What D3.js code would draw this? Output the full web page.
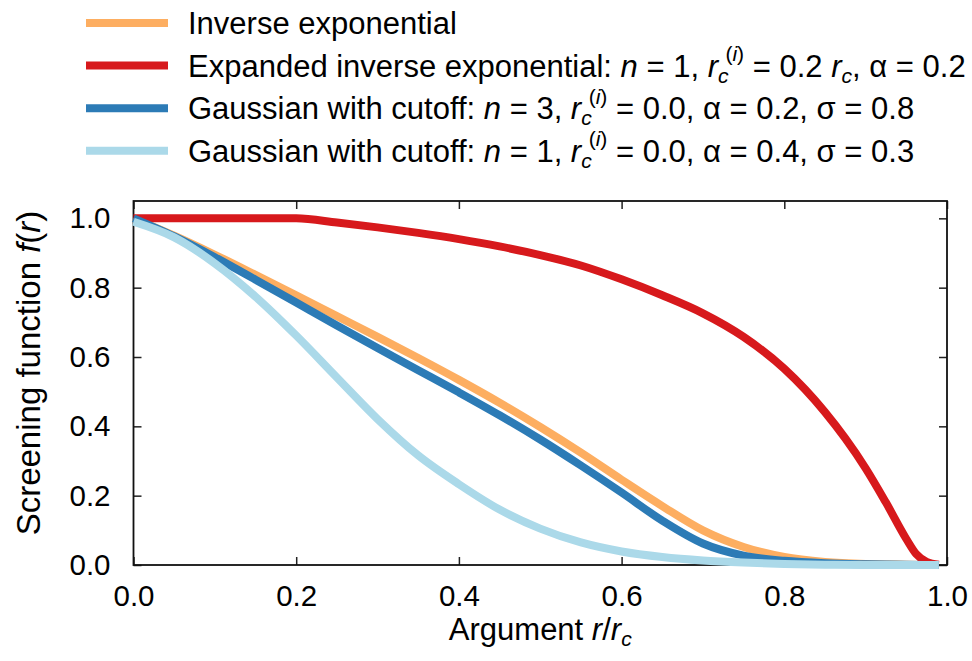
<!DOCTYPE html>
<html>
<head>
<meta charset="utf-8">
<script src="https://cdn.jsdelivr.net/npm/d3@7"></script>
<style>
  body { margin: 0; background: #fff; }
  text { font-family: "Liberation Sans", Arial, Helvetica, sans-serif; white-space: pre; }
</style>
</head>
<body>
<svg id="chart"></svg>
<script>
// values
var rGrid = [0, 0.05, 0.1, 0.15, 0.2, 0.25, 0.3, 0.35, 0.4, 0.45, 0.5, 0.55, 0.6, 0.65, 0.7, 0.75, 0.8, 0.85, 0.9, 0.95, 0.99];
var inverseExp = [1.0, 0.950, 0.895, 0.837, 0.778, 0.718, 0.658, 0.597, 0.534, 0.468, 0.398, 0.324, 0.246, 0.170, 0.100, 0.052, 0.023, 0.009, 0.003, 0.001, 0.0];
var gaussN3 = [1.0, 0.948, 0.888, 0.823, 0.757, 0.691, 0.626, 0.562, 0.498, 0.432, 0.362, 0.287, 0.209, 0.128, 0.062, 0.027, 0.012, 0.005, 0.002, 0.0005, 0.0];
var gaussN1 = [0.99, 0.945, 0.870, 0.774, 0.662, 0.541, 0.421, 0.316, 0.233, 0.160, 0.105, 0.065, 0.039, 0.023, 0.013, 0.007, 0.003, 0.001, 0.0, 0.0, 0.0];
var expandedR = [0, 0.1, 0.2, 0.25, 0.3, 0.35, 0.4, 0.45, 0.5, 0.55, 0.6, 0.65, 0.7, 0.75, 0.8, 0.85, 0.875, 0.9, 0.925, 0.95, 0.962, 0.975, 0.99];
var expandedF = [1.0, 1.0, 1.0, 0.988, 0.974, 0.958, 0.940, 0.919, 0.894, 0.864, 0.824, 0.778, 0.726, 0.658, 0.566, 0.441, 0.365, 0.279, 0.180, 0.075, 0.032, 0.009, 0.001];

var xTicks = [0, 0.2, 0.4, 0.6, 0.8, 1.0];
var yTicks = [0, 0.2, 0.4, 0.6, 0.8, 1.0];

var colors = ["#fdae61", "#d7191c", "#2c7bb6", "#abd9e9"];

// legend labels as [text, kind] pieces
var rci = [["r", "it"], ["c", "sub it"], ["(", "sup back"], ["i", "sup it"], [")", "sup"]];
var legendLabels = [
  [["Inverse exponential", ""]],
  [["Expanded inverse exponential: ", ""], ["n", "it"], [" = 1, ", ""]].concat(rci,
    [[" = 0.2 ", ""], ["r", "it"], ["c", "sub it"], [", \u03b1 = 0.2", ""]]),
  [["Gaussian with cutoff: ", ""], ["n", "it"], [" = 3, ", ""]].concat(rci,
    [[" = 0.0, \u03b1 = 0.2, \u03c3 = 0.8", ""]]),
  [["Gaussian with cutoff: ", ""], ["n", "it"], [" = 1, ", ""]].concat(rci,
    [[" = 0.0, \u03b1 = 0.4, \u03c3 = 0.3", ""]])
];

var W = 972, H = 661;
var plot = { left: 133.5, right: 947, top: 201, bottom: 565 };

var svg = d3.select("#chart").attr("width", W).attr("height", H);

var x = d3.scaleLinear().domain([0, 1]).range([plot.left, plot.right]);
var y = d3.scaleLinear().domain([0, 1.05]).range([plot.bottom, plot.top]);

// write text with italic / sub / superscript pieces
function richText(sel, segs, size) {
  var shift = 0;
  segs.forEach(function (s) {
    var kind = s[1];
    var isSub = kind.indexOf("sub") >= 0, isSup = kind.indexOf("sup") >= 0;
    var target = isSub ? 0.2 * size : (isSup ? -0.5 * size : 0);
    var ts = sel.append("tspan").text(s[0])
      .attr("dy", target - shift)
      .attr("font-size", (isSub || isSup) ? size * 0.68 : size);
    if (kind.indexOf("it") >= 0) ts.attr("font-style", "italic");
    if (kind.indexOf("back") >= 0) ts.attr("dx", -0.1 * size);
    shift = target;
  });
}

// axes, ticks pointing inward on all four sides
var fmt = d3.format(".1f");
var tickLen = 8;

svg.append("g")
  .attr("transform", "translate(0," + plot.bottom + ")")
  .call(d3.axisBottom(x).tickValues(xTicks).tickFormat(fmt)
    .tickSizeInner(-tickLen).tickSizeOuter(0).tickPadding(20))
  .call(function (g) { g.select(".domain").remove(); });

svg.append("g")
  .attr("transform", "translate(" + plot.left + ",0)")
  .call(d3.axisLeft(y).tickValues(yTicks).tickFormat(fmt)
    .tickSizeInner(-tickLen).tickSizeOuter(0).tickPadding(23))
  .call(function (g) { g.select(".domain").remove(); });

svg.append("g")
  .attr("transform", "translate(0," + plot.top + ")")
  .call(d3.axisTop(x).tickValues(xTicks).tickFormat("")
    .tickSizeInner(-tickLen).tickSizeOuter(0))
  .call(function (g) { g.select(".domain").remove(); });

svg.append("g")
  .attr("transform", "translate(" + plot.right + ",0)")
  .call(d3.axisRight(y).tickValues(yTicks).tickFormat("")
    .tickSizeInner(-tickLen).tickSizeOuter(0))
  .call(function (g) { g.select(".domain").remove(); });

svg.selectAll(".tick line").attr("stroke", "#222").attr("stroke-width", 1.5);
svg.selectAll(".tick text").attr("font-size", 29.5).attr("fill", "#000")
  .attr("font-family", '"Liberation Sans", Arial, sans-serif');

svg.append("rect")
  .attr("x", plot.left).attr("y", plot.top)
  .attr("width", plot.right - plot.left).attr("height", plot.bottom - plot.top)
  .attr("fill", "none").attr("stroke", "#111").attr("stroke-width", 1.8);

// curves
var series = [
  { r: rGrid, f: inverseExp },
  { r: expandedR, f: expandedF },
  { r: rGrid, f: gaussN3 },
  { r: rGrid, f: gaussN1 }
];

var line = d3.line()
  .curve(d3.curveMonotoneX)
  .x(function (d) { return x(d[0]); })
  .y(function (d) { return y(d[1]); });

series.forEach(function (s, i) {
  svg.append("path")
    .datum(d3.zip(s.r, s.f))
    .attr("fill", "none")
    .attr("stroke", colors[i])
    .attr("stroke-width", 8)
    .attr("stroke-linejoin", "round")
    .attr("d", line);
});

// axis titles
var xt = svg.append("text")
  .attr("x", (plot.left + plot.right) / 2).attr("y", 640)
  .attr("text-anchor", "middle").attr("font-size", 31);
richText(xt, [["Argument ", ""], ["r", "it"], ["/", ""], ["r", "it"], ["c", "sub it"]], 31);

var yt = svg.append("text")
  .attr("transform", "translate(40,373) rotate(-90)")
  .attr("text-anchor", "middle").attr("font-size", 33);
richText(yt, [["Screening function ", ""], ["f", "it"], ["(", ""], ["r", "it"], [")", ""]], 33);

// legend
var legend = svg.append("g");
legendLabels.forEach(function (lab, i) {
  var cy = 23 + i * 42.6;
  legend.append("line")
    .attr("x1", 86).attr("x2", 168).attr("y1", cy).attr("y2", cy)
    .attr("stroke", colors[i]).attr("stroke-width", 8);
  var t = legend.append("text").attr("x", 188).attr("y", cy + 11).attr("font-size", 31);
  richText(t, lab, 31);
});
</script>
</body>
</html>
